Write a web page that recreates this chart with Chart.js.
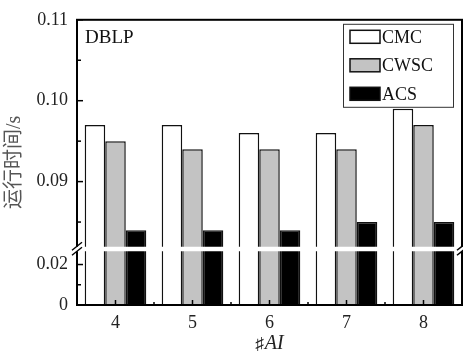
<!DOCTYPE html>
<html>
<head>
<meta charset="utf-8">
<script src="https://cdn.jsdelivr.net/npm/chart.js@4.4.1/dist/chart.umd.min.js"></script>
<style>
  html, body { margin: 0; padding: 0; background: #fff; }
</style>
</head>
<body>
<canvas id="runtimeChart" width="463" height="351"></canvas>
<script>
const categories = ["4", "5", "6", "7", "8"];
const seriesNames = ["CMC", "CWSC", "ACS"];
const cmcValues = [0.097, 0.097, 0.096, 0.096, 0.099];
const cwscValues = [0.095, 0.094, 0.094, 0.094, 0.097];
const acsValues = [0.084, 0.084, 0.084, 0.085, 0.085];
const yTickValues = [0, 0.01, 0.02, 0.085, 0.09, 0.095, 0.1, 0.105, 0.11];
const yTickLabels = ["0", "", "0.02", "", "0.09", "", "0.10", "", "0.11"];
const panelLabel = "DBLP";
const yTitle = "运行时间/s";
const xTitleSymbol = "♯";
const xTitleVar = "AI";

// broken y axis: 0..BREAK_LOW on the lower part, BREAK_HIGH..max on the upper part
const BREAK_LOW = 0.0278;
const BREAK_HIGH = 0.0817;
const LOWER_SHARE = 57 / 289;

const SERIF = "'Liberation Serif', 'Noto Sans CJK SC', serif";

class BrokenLinearScale extends Chart.LinearScale {
  breakPixel() {
    return this.bottom - (this.bottom - this.top) * LOWER_SHARE;
  }
  getPixelForValue(value) {
    if (value === null || value === undefined || isNaN(value)) return NaN;
    const bp = this.breakPixel();
    if (value <= BREAK_LOW) {
      return this.bottom - (value - this.min) / (BREAK_LOW - this.min) * (this.bottom - bp);
    }
    if (value >= BREAK_HIGH) {
      return bp - (value - BREAK_HIGH) / (this.max - BREAK_HIGH) * (bp - this.top);
    }
    return bp;
  }
  getValueForPixel(pixel) {
    const bp = this.breakPixel();
    if (pixel >= bp) {
      return this.min + (this.bottom - pixel) / (this.bottom - bp) * (BREAK_LOW - this.min);
    }
    return BREAK_HIGH + (bp - pixel) / (bp - this.top) * (this.max - BREAK_HIGH);
  }
}
BrokenLinearScale.id = "brokenLinear";
BrokenLinearScale.defaults = Chart.LinearScale.defaults;
Chart.register(BrokenLinearScale);

function line(ctx, x1, y1, x2, y2) {
  ctx.beginPath();
  ctx.moveTo(x1, y1);
  ctx.lineTo(x2, y2);
  ctx.stroke();
}

const decorPlugin = {
  id: "decor",
  afterDatasetsDraw(chart) {
    const { ctx, chartArea: a, scales: { x, y } } = chart;
    ctx.save();
    ctx.strokeStyle = "#000";

    // inward ticks
    ctx.lineWidth = 1.5;
    y.ticks.forEach((t, i) => {
      const py = y.getPixelForValue(t.value);
      line(ctx, a.left, py, a.left + (yTickLabels[i] ? 6 : 4), py);
    });
    categories.forEach((c, i) => {
      const px = x.getPixelForValue(i);
      line(ctx, px, a.bottom, px, a.bottom - 5);
      if (i < categories.length - 1) {
        const mid = (px + x.getPixelForValue(i + 1)) / 2;
        line(ctx, mid, a.bottom, mid, a.bottom - 3);
      }
    });

    // frame
    ctx.lineWidth = 2;
    ctx.strokeRect(a.left, a.top, a.right - a.left, a.bottom - a.top);

    // break gap + slashes
    const bp = y.breakPixel();
    ctx.fillStyle = "#fff";
    ctx.fillRect(a.left - 3, bp - 2, a.right - a.left + 6, 4.5);
    ctx.lineWidth = 1.5;
    [a.left, a.right].forEach(ax => {
      [-2.5, 2.5].forEach(dy => line(ctx, ax - 5, bp + dy + 4, ax + 5, bp + dy - 4));
    });

    // panel label
    ctx.fillStyle = "#111";
    ctx.font = "19px " + SERIF;
    ctx.textBaseline = "alphabetic";
    ctx.textAlign = "left";
    ctx.fillText(panelLabel, a.left + 8, a.top + 23);

    // legend box
    const lx = a.right - 119, ly = a.top + 4, lw = 110, lh = 83;
    ctx.fillStyle = "#fff";
    ctx.fillRect(lx, ly, lw, lh);
    ctx.lineWidth = 1;
    ctx.strokeStyle = "#333";
    ctx.strokeRect(lx + 0.5, ly + 0.5, lw, lh);
    chart.data.datasets.forEach((ds, i) => {
      const cy = ly + 13 + i * 28.5;
      ctx.fillStyle = ds.backgroundColor;
      ctx.fillRect(lx + 7, cy - 6.5, 30, 13);
      ctx.strokeStyle = "#111";
      ctx.lineWidth = 1.5;
      ctx.strokeRect(lx + 7, cy - 6.5, 30, 13);
      ctx.fillStyle = "#111";
      ctx.font = "18px " + SERIF;
      ctx.textBaseline = "middle";
      ctx.fillText(ds.label, lx + 39, cy + 1);
    });

    // x title: upright sharp sign + italic AI
    const cx = (a.left + a.right) / 2;
    ctx.textBaseline = "alphabetic";
    ctx.font = "17px " + SERIF;
    const w1 = ctx.measureText(xTitleSymbol).width;
    ctx.font = "italic 20px " + SERIF;
    const w2 = ctx.measureText(xTitleVar).width;
    const sx = cx - (w1 + w2 + 1) / 2;
    ctx.fillStyle = "#222";
    ctx.font = "17px " + SERIF;
    ctx.fillText(xTitleSymbol, sx, 349);
    ctx.font = "italic 20px " + SERIF;
    ctx.fillText(xTitleVar, sx + w1 + 1, 349);

    ctx.restore();
  }
};

new Chart(document.getElementById("runtimeChart"), {
  type: "bar",
  data: {
    labels: categories,
    datasets: [
      { label: seriesNames[0], data: cmcValues, backgroundColor: "#ffffff" },
      { label: seriesNames[1], data: cwscValues, backgroundColor: "#c3c3c3" },
      { label: seriesNames[2], data: acsValues, backgroundColor: "#000000" },
    ],
  },
  options: {
    responsive: false,
    devicePixelRatio: 1,
    animation: false,
    layout: { padding: { top: 12, right: 1, left: 0, bottom: 0 } },
    datasets: {
      bar: {
        borderColor: "#111",
        borderWidth: 1.5,
        barPercentage: 1,
        categoryPercentage: 0.8,
      },
    },
    plugins: {
      legend: { display: false },
      tooltip: { enabled: false },
    },
    scales: {
      x: {
        offset: true,
        grid: { display: false, drawTicks: false },
        border: { display: false },
        ticks: { color: "#222", padding: 7, font: { family: SERIF, size: 18 } },
        afterFit: s => { s.height = 46; },
      },
      y: {
        type: "brokenLinear",
        min: 0,
        max: 0.11,
        grid: { display: false, drawTicks: false },
        border: { display: false },
        afterBuildTicks: s => { s.ticks = yTickValues.map(v => ({ value: v })); },
        ticks: {
          autoSkip: false,
          color: "#222",
          padding: 9,
          font: { family: SERIF, size: 18 },
          callback: (v, i) => yTickLabels[i],
        },
        title: {
          display: true,
          text: yTitle,
          color: "#555",
          padding: { top: 3, bottom: 0 },
          font: { family: SERIF, size: 20 },
        },
        afterFit: s => { s.width = 77; },
      },
    },
  },
  plugins: [decorPlugin],
});
</script>
</body>
</html>
